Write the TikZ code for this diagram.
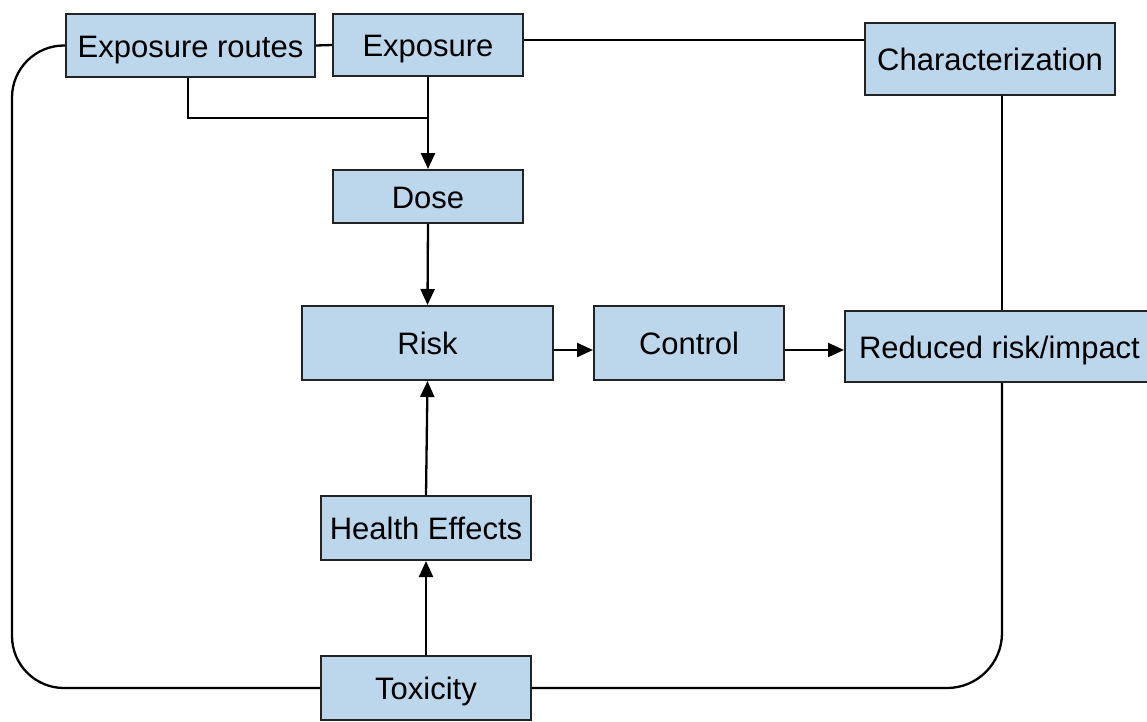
\documentclass[tikz,border=0pt]{standalone}
\usepackage{fontspec}
\setmainfont{Liberation Sans}
\usetikzlibrary{arrows.meta}
\definecolor{boxfill}{RGB}{188,214,236}
\definecolor{boxline}{RGB}{35,35,35}
\tikzset{
  box/.style={draw=boxline, fill=boxfill, line width=2pt, rectangle, inner sep=0pt,
    text height=23pt, text depth=0pt,
    font=\fontsize{31}{37}\selectfont},
  conn/.style={draw=black, line width=2.3pt},
  arr/.style={conn, -{Triangle[length=16pt,width=14pt]}},
}
\begin{document}
\begin{tikzpicture}[x=1pt,y=-1pt]
\useasboundingbox[fill=white] (0,0) rectangle (1147,721);
% boxes
\node[box, minimum width=249pt, minimum height=63pt] (er) at (190.5,45.5) {Exposure routes};
\node[box, minimum width=190pt, minimum height=62pt] (ex) at (428,45) {Exposure};
\node[box, minimum width=250pt, minimum height=72pt] (ch) at (990,58.5) {Characterization};
\node[box, minimum width=190pt, minimum height=53pt] (dose) at (428,196.5) {Dose};
\node[box, minimum width=251pt, minimum height=74pt] (risk) at (427.5,343) {Risk};
\node[box, minimum width=190pt, minimum height=74pt] (ctrl) at (689,343) {Control};
\node[box, minimum width=303pt, minimum height=71pt] (red) at (996.5,346.5) {\hspace*{6pt}Reduced risk/impact};
\node[box, minimum width=210pt, minimum height=64pt] (he) at (426,528) {Health Effects};
\node[box, minimum width=210pt, minimum height=64pt] (tox) at (426,688) {Toxicity};
% helper coordinates
\coordinate (erb) at (188,118);
\coordinate (jn) at (428,118);
\coordinate (rv) at (1002,0);
% connectors
\draw[conn] (er.east) -- (ex.west);
\draw[conn] ([yshift=5pt]ex.east) -- ([yshift=5pt]ex.east -| ch.west);
\draw[conn] (erb |- er.south) -- (erb) -- (jn);
\draw[arr] (ex.south) -- (dose.north);
\draw[arr] (dose.south) -- (risk.north);
\draw[arr] (he.north) -- (risk.south);
\draw[arr] (tox.north) -- (he.south);
\draw[arr] ([yshift=-7pt]risk.east) -- ([yshift=-7pt]risk.east -| ctrl.west);
\draw[arr] ([yshift=-7pt]ctrl.east) -- ([yshift=-7pt]ctrl.east -| red.west);
\draw[conn] (rv |- ch.south) -- (rv |- red.north);
\draw[conn, rounded corners=52pt] (er.west) -- (12,45.5) -- (12,688) -- (tox.west);
\draw[conn, rounded corners=55pt] (tox.east) -- (rv |- tox.east) -- (rv |- red.south);
\end{tikzpicture}
\end{document}
